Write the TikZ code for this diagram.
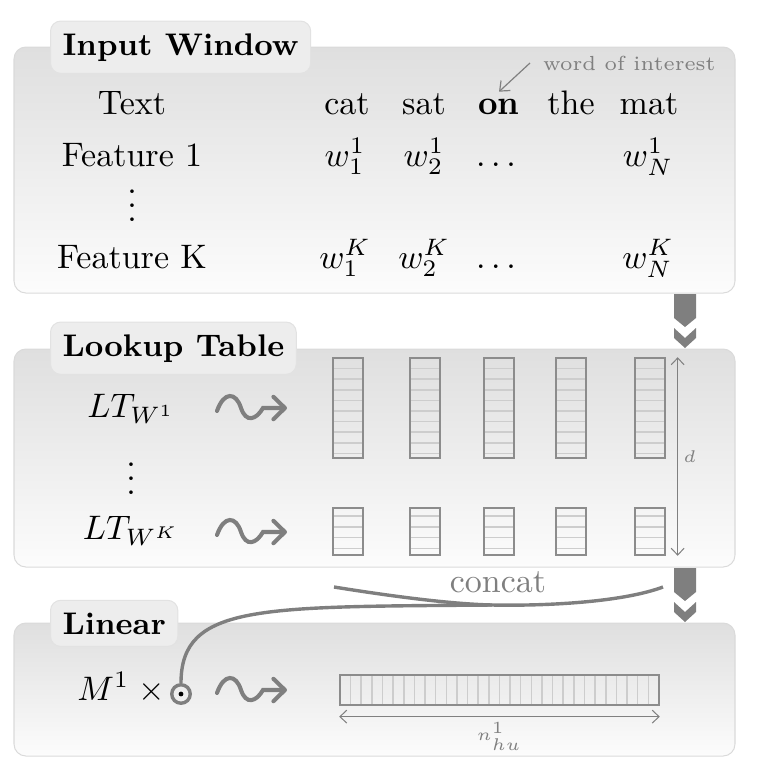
\documentclass[tikz,border=0pt]{standalone}
\usepackage{fix-cm}
\usetikzlibrary{arrows.meta}
\definecolor{paneltop}{RGB}{223,223,223}
\definecolor{panelbot}{RGB}{252,252,252}
\definecolor{panelline}{RGB}{218,218,218}
\definecolor{tabfill}{RGB}{237,237,237}
\definecolor{tabline}{RGB}{226,226,226}
\definecolor{flowgray}{RGB}{127,127,127}
\definecolor{cellline}{RGB}{140,140,140}
\definecolor{gridgray}{RGB}{205,205,205}
\definecolor{notegray}{RGB}{128,128,128}
\tikzset{%
panel/.style={draw=panelline,line width=0.3pt,rounded corners=3.5pt,top color=paneltop,bottom color=panelbot},
tab/.style={draw=tabline,line width=0.3pt,fill=tabfill,rounded corners=3pt,anchor=base west,inner xsep=3.53pt,inner ysep=3.6pt,font=\fontsize{9.2}{11}\selectfont\bfseries},
word/.style={anchor=base},
note/.style={notegray,font=\fontsize{6}{7}\selectfont},
col/.style={draw=cellline,line width=0.45pt,inner sep=0pt,minimum width=8.82pt},
bigcol/.style={col,minimum height=29.41pt},
smallcol/.style={col,minimum height=13.82pt},
gridrule/.style={draw=gridgray,line width=0.45pt},
dimarrow/.style={notegray,line width=0.3pt,{Straight Barb[length=2pt,width=3.8pt]}-{Straight Barb[length=2pt,width=3.8pt]}},
dimlabel/.style={notegray,font=\tiny,inner sep=1.5pt},
wire/.style={flowgray,line width=1pt},
squig/.pic={\draw[flowgray,line width=1.2pt,line cap=round,-{Straight Barb[round,length=3.4pt,width=6.6pt]}]
   (0,3) .. controls (7,-17) and (19,-16) .. (24,0) .. controls (29,15) and (39,12) .. (46,0) -- (70,0);},
flow/.pic={\fill[flowgray] (-11,0) -- (11,0) -- (11,24) -- (0,33) -- (-11,24) -- cycle
   (-11,34) -- (0,44) -- (11,34) -- (11,44) -- (0,54) -- (-11,44) -- cycle;}
}

\begin{document}
\begin{tikzpicture}[x=0.2941pt,y=-0.2941pt]
\useasboundingbox (0,0) rectangle (764,766);
% input window
\draw[panel] (14,47) rectangle (735,293);
\node[tab] (inwin) at (50,55) {Input Window};
\node[word] (lbltext) at (132,114) {Text};
\foreach \w/\x [count=\i] in {cat/347,sat/424,{\textbf{on}}/499,the/571,mat/649}
  \node[word] (tok\i) at (\x,114) {\w};
\node[word] (feat1) at (132,166) {Feature 1};
\node[word] (featdots) at (132,221) {$\vdots$};
\node[word] (featK) at (132,268) {Feature K};
\foreach \t/\x [count=\i] in {{$w_1^1$}/345,{$w_2^1$}/424,{$\dots$}/496,{$w_N^1$}/648}
  \node[word] (one\i) at (\x,166) {\t};
\foreach \t/\x [count=\i] in {{$w_1^K$}/345,{$w_2^K$}/424,{$\dots$}/496,{$w_N^K$}/648}
  \node[word] (kay\i) at (\x,268) {\t};
\node[note,anchor=base west] (woi) at (531,70) {word of interest};
\coordinate (woitail) at (530,63);
\draw[notegray,line width=0.35pt,-{Straight Barb[length=2.4pt,width=4pt]}] (woitail) -- ([yshift=-1.5pt]tok3.north);
\pic at (685,294) {flow};

% lookup table
\draw[panel] (14,349) rectangle (735,567);
\node[tab] (lookup) at (50,356) {Lookup Table};
\node[word] (lt1) at (131,417) {$LT_{W^1}$};
\node[word] (ltdots) at (131,494) {$\vdots$};
\node[word] (ltK) at (131,539) {$LT_{W^K}$};
\pic at (217,408) {squig};
\pic at (217,532) {squig};
\foreach \x [count=\i] in {348,425,499,571,650} {
  \foreach \k in {1,...,9}
    \draw[gridrule] (\x-15,358+10.6*\k) -- (\x+15,358+10.6*\k);
  \foreach \k in {0,...,3}
    \draw[gridrule] (\x-15,516+10.8*\k) -- (\x+15,516+10.8*\k);
  \node[bigcol] (big\i) at (\x,408) {};
  \node[smallcol] (small\i) at (\x,531.5) {};
}
\draw[dimarrow] ([xshift=3.5pt]big5.north east) -- ([xshift=3.5pt]small5.south east)
  node[midway,right,dimlabel] (dlbl) {$d$};
\pic at (685,568) {flow};

% linear
\draw[panel] (14,623) rectangle (735,756);
\node[tab] (linear) at (50,634) {Linear};
\node[circle,draw=flowgray,line width=1pt,minimum size=5.44pt,inner sep=0pt] (odot) at (181,694) {};
\fill (odot.center) circle (0.7pt);
\node[word,anchor=base east,inner sep=0pt] (mtimes) at (166,700) {$M^1\;\times$};
\pic at (217,690) {squig};
\foreach \k in {1,...,29}
  \draw[gridrule] (340+10.63*\k,675) -- (340+10.63*\k,705);
\node[col,minimum width=93.82pt,minimum height=8.82pt] (hidden) at (499.5,690) {};
\draw[dimarrow] ([yshift=-3.2pt]hidden.south west) -- ([yshift=-3.2pt]hidden.south east)
  node[midway,below,dimlabel] (nlbl) {$n_{hu}^1$};

% concat
\coordinate (catL) at (334,587);
\coordinate (catR) at (663,587);
\coordinate (catM) at (492,605);
\node[word,flowgray] (concat) at (498,592) {concat};
\draw[wire] (catL) .. controls (390,596) and (450,604) .. (catM);
\draw[wire] (catR) .. controls (620,603) and (540,606) .. (catM) .. controls (260,607) and (181,604) .. (odot.north);
\end{tikzpicture}
\end{document}
